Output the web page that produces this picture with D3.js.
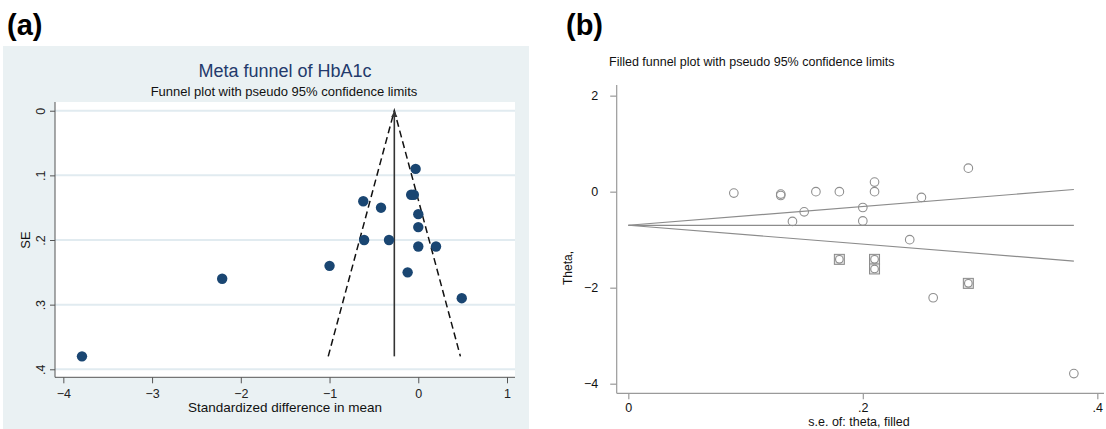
<!DOCTYPE html>
<html>
<head>
<meta charset="utf-8">
<script src="https://d3js.org/d3.v7.min.js"></script>
<style>
body { margin: 0; background: #fff; }
svg text { font-family: "Liberation Sans", Arial, Helvetica, sans-serif; }
</style>
</head>
<body>
<div id="chart"></div>
<script>
// study estimates (shared by both panels)
var smd = [-0.03, -0.08, -0.05, -0.62, -0.42, 0.0, 0.0, -0.61, -0.33, 0.0, 0.2, -1.0, -0.12, -2.21, 0.49, -3.79];
var se  = [0.09, 0.13, 0.13, 0.14, 0.15, 0.16, 0.18, 0.20, 0.20, 0.21, 0.21, 0.24, 0.25, 0.26, 0.29, 0.38];

// trim-and-fill imputed studies
var filledSe    = [0.18, 0.21, 0.21, 0.29];
var filledTheta = [-1.41, -1.41, -1.61, -1.91];

var pooledA = -0.27;   // panel a pooled estimate
var pooledB = -0.70;   // panel b filled estimate
var maxSe = 0.38;

var xTicksA = [-4, -3, -2, -1, 0, 1];
var yTicksA = [0, 0.1, 0.2, 0.3, 0.4];
var xTicksB = [0, 0.2, 0.4];
var yTicksB = [2, 0, -2, -4];

var w = 1106;
var h = 429;

function stataFmt(d) {
    if (d === 0) return "0";
    return d3.format(".1f")(d).replace(/^0/, "").replace(/^-0/, "-");
}

function drawA(svg)
{
    var xScale = d3.scaleLinear().domain([-4.094, 1.09]).range([55, 515]);
    var yScale = d3.scaleLinear().domain([-0.0135, 0.4124]).range([102, 377.3]);

    svg.append("rect").attr("x", 3).attr("y", 46).attr("width", 526).attr("height", 383)
        .attr("fill", "#eaf1f3");
    svg.append("rect").attr("x", 55).attr("y", 102).attr("width", 460).attr("height", 275.3)
        .attr("fill", "#fff");

    // grid
    svg.selectAll(".gridA").data(yTicksA).enter().append("line")
        .attr("x1", 55).attr("x2", 515)
        .attr("y1", (d) => yScale(d)).attr("y2", (d) => yScale(d))
        .attr("stroke", "#e1ebf0").attr("stroke-width", 2);

    svg.append("text").attr("x", 285).attr("y", 77).attr("text-anchor", "middle")
        .attr("font-size", 18).attr("fill", "#233a6c").text("Meta funnel of HbA1c");
    svg.append("text").attr("x", 284).attr("y", 96.3).attr("text-anchor", "middle")
        .attr("font-size", 13).attr("fill", "#111").text("Funnel plot with pseudo 95% confidence limits");

    // funnel
    var line = d3.line().x((d) => xScale(d[0])).y((d) => yScale(d[1]));
    var z = 1.96 * maxSe;
    svg.append("path").attr("d", line([[pooledA - z, maxSe], [pooledA, 0], [pooledA + z, maxSe]]))
        .attr("fill", "none").attr("stroke", "#111").attr("stroke-width", 1.5)
        .attr("stroke-dasharray", "7,4");

    svg.append("defs").append("marker").attr("id", "arr")
        .attr("viewBox", "0 0 10 10").attr("refX", 10).attr("refY", 5)
        .attr("markerWidth", 4).attr("markerHeight", 4).attr("orient", "auto")
        .append("path").attr("d", "M0,0L10,5L0,10z").attr("fill", "#333");
    svg.append("line")
        .attr("x1", xScale(pooledA)).attr("x2", xScale(pooledA))
        .attr("y1", yScale(maxSe)).attr("y2", yScale(0))
        .attr("stroke", "#333").attr("stroke-width", 1.6).attr("marker-end", "url(#arr)");

    svg.selectAll(".dotA").data(smd).enter().append("circle")
        .attr("cx", (d) => xScale(d))
        .attr("cy", (d, i) => yScale(se[i]))
        .attr("r", 5.2)
        .attr("fill", "#1a4672");

    // axes
    var xAxis = d3.axisBottom(xScale).tickValues(xTicksA).tickSize(6).tickPadding(6)
        .tickFormat(d3.format("d")).tickSizeOuter(0);
    var gx = svg.append("g").attr("transform", "translate(0,377.3)").call(xAxis);
    gx.select(".domain").attr("d", "M55,0H515");

    var yAxis = d3.axisLeft(yScale).tickValues(yTicksA).tickSize(5).tickFormat(stataFmt).tickSizeOuter(0);
    var gy = svg.append("g").attr("transform", "translate(55,0)").call(yAxis);
    gy.select(".domain").attr("d", "M0,102V377.3");
    gy.selectAll(".tick text").attr("x", 0).attr("y", -10).attr("dy", null)
        .attr("transform", "rotate(-90)").style("text-anchor", "middle");

    [gx, gy].forEach(function(g) {
        g.selectAll(".domain, .tick line").attr("stroke", "#555");
        g.selectAll("text").attr("font-size", 12.5).attr("fill", "#222")
            .style("font-family", "Liberation Sans, Arial, sans-serif");
    });

    svg.append("text").attr("x", 285).attr("y", 412).attr("text-anchor", "middle")
        .attr("font-size", 13.5).attr("fill", "#111").text("Standardized difference in mean");
    svg.append("text").attr("transform", "translate(30,240) rotate(-90)").attr("text-anchor", "middle")
        .attr("font-size", 13).attr("fill", "#111").text("SE");

    svg.append("text").attr("x", 7).attr("y", 35).attr("font-size", 29).attr("font-weight", "bold")
        .attr("fill", "#000").text("(a)");
}

function drawB(svg)
{
    var xScale = d3.scaleLinear().domain([-0.0099, 0.4057]).range([616.7, 1104]);
    var yScale = d3.scaleLinear().domain([-4.2, 2.222]).range([393.3, 85]);

    svg.append("text").attr("x", 609).attr("y", 66).attr("font-size", 12.5).attr("fill", "#111")
        .text("Filled funnel plot with pseudo 95% confidence limits");

    var line = d3.line().x((d) => xScale(d[0])).y((d) => yScale(d[1]));
    var z = 1.96 * maxSe;
    [[pooledB + z], [pooledB], [pooledB - z]].forEach(function(end) {
        svg.append("path").attr("d", line([[0, pooledB], [maxSe, end[0]]]))
            .attr("fill", "none").attr("stroke", "#8c8c8c").attr("stroke-width", 1.2);
    });

    // imputed studies: square with circle
    svg.selectAll(".sqB").data(filledSe).enter().append("rect")
        .attr("x", (d) => xScale(d) - 5).attr("y", (d, i) => yScale(filledTheta[i]) - 5)
        .attr("width", 10).attr("height", 10)
        .attr("fill", "#e2e2e2").attr("stroke", "#8a8a8a").attr("stroke-width", 1);
    svg.selectAll(".fcB").data(filledSe).enter().append("circle")
        .attr("cx", (d) => xScale(d)).attr("cy", (d, i) => yScale(filledTheta[i]))
        .attr("r", 3.8).attr("fill", "#fff").attr("stroke", "#8a8a8a").attr("stroke-width", 1.1);

    svg.selectAll(".dotB").data(se).enter().append("circle")
        .attr("cx", (d) => xScale(d)).attr("cy", (d, i) => yScale(smd[i]))
        .attr("r", 4.3).attr("fill", "none").attr("stroke", "#8f8f8f").attr("stroke-width", 1.1);

    var xAxis = d3.axisBottom(xScale).tickValues(xTicksB).tickSize(6).tickPadding(4)
        .tickFormat(stataFmt).tickSizeOuter(0);
    var gx = svg.append("g").attr("transform", "translate(0,393.3)").call(xAxis);
    gx.select(".domain").attr("d", "M616.7,0H1104");

    var yAxis = d3.axisLeft(yScale).tickValues(yTicksB).tickSize(6.5).tickPadding(12)
        .tickFormat(d3.format("d")).tickSizeOuter(0);
    var gy = svg.append("g").attr("transform", "translate(616.7,0)").call(yAxis);
    gy.select(".domain").attr("d", "M0,85V393.3");

    [gx, gy].forEach(function(g) {
        g.selectAll(".domain, .tick line").attr("stroke", "#9a9a9a").attr("stroke-width", 1.2);
        g.selectAll("text").attr("font-size", 12.5).attr("fill", "#111")
            .style("font-family", "Liberation Sans, Arial, sans-serif");
    });

    svg.append("text").attr("x", 859).attr("y", 426).attr("text-anchor", "middle")
        .attr("font-size", 12.5).attr("fill", "#111").text("s.e. of: theta, filled");
    svg.append("text").attr("transform", "translate(571.5,268) rotate(-90)").attr("text-anchor", "middle")
        .attr("font-size", 12).attr("fill", "#111").text("Theta,");

    svg.append("text").attr("x", 566).attr("y", 35).attr("font-size", 29).attr("font-weight", "bold")
        .attr("fill", "#000").text("(b)");
}

function init()
{
    var svg = d3.select("#chart").append("svg").attr("width", w).attr("height", h);
    svg.append("rect").attr("width", w).attr("height", h).attr("fill", "#fff");
    drawA(svg);
    drawB(svg);
}

window.onload = init;
</script>
</body>
</html>
